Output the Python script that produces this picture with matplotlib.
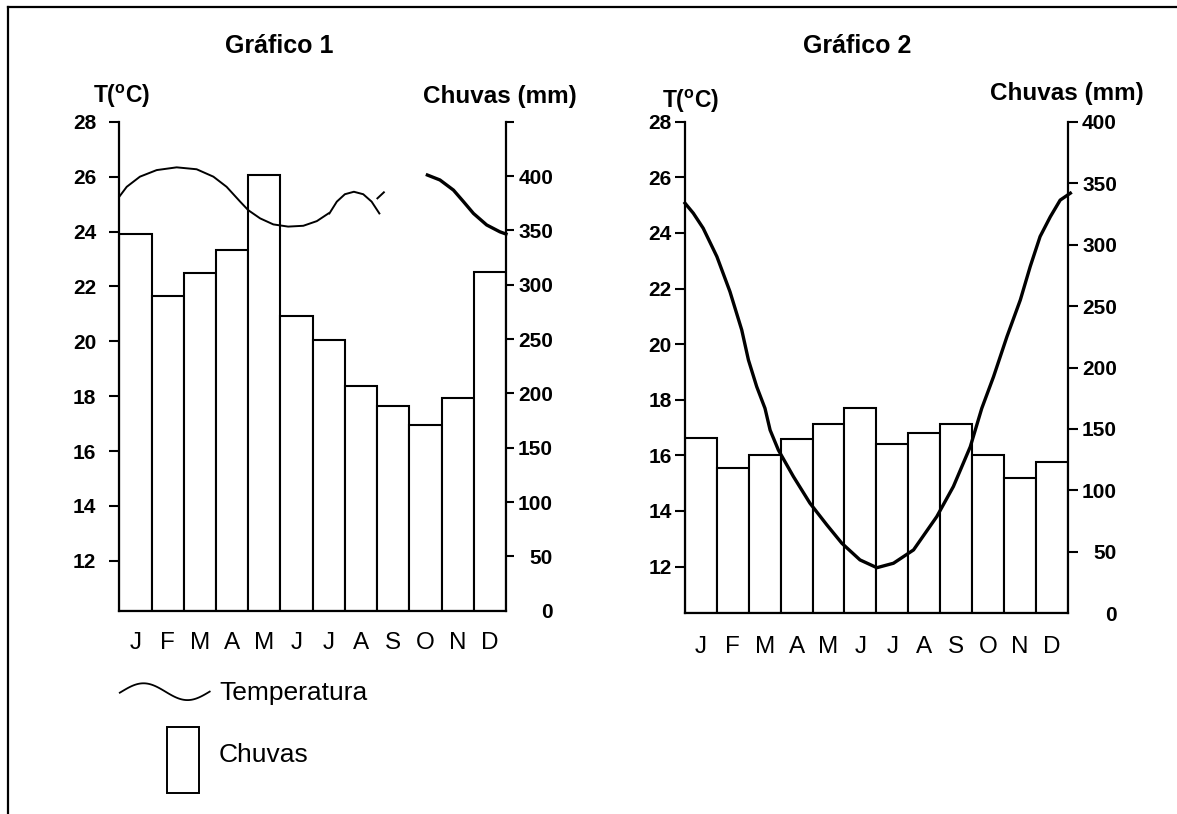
import numpy as np
import matplotlib
matplotlib.use('Agg')
import matplotlib.pyplot as plt
from matplotlib.patches import Rectangle

plt.rcParams['font.family'] = ['Liberation Sans', 'DejaVu Sans']
plt.rcParams['mathtext.fontset'] = 'custom'
plt.rcParams['mathtext.rm'] = 'Liberation Sans:bold'
plt.rcParams['mathtext.bf'] = 'Liberation Sans:bold'

W, H = 1177, 814

months = ['J', 'F', 'M', 'A', 'M', 'J', 'J', 'A', 'S', 'O', 'N', 'D']

# chuvas (mm)
rain1 = [347, 290, 311, 332, 401, 271, 249, 207, 188, 171, 196, 312]
rain2 = [143, 118, 129, 142, 154, 167, 138, 147, 154, 129, 110, 123]

# temperatura, grafico 1 (curve is broken in the original)
t1a_x = [-0.5, -0.27, 0.14, 0.66, 1.28, 1.90, 2.42, 2.83, 3.25, 3.50, 3.87, 4.28, 4.74, 5.21, 5.63, 5.99]
t1a_y = [25.27, 25.63, 26.00, 26.24, 26.34, 26.27, 26.00, 25.63, 25.09, 24.78, 24.48, 24.26, 24.18, 24.21, 24.38, 24.66]
t1b_x = [6.02, 6.25, 6.50, 6.78, 7.07, 7.33, 7.57]
t1b_y = [24.66, 25.09, 25.36, 25.45, 25.36, 25.09, 24.66]
t1c_x = [7.51, 7.71]
t1c_y = [25.21, 25.43]
t1d_x = [9.06, 9.45, 9.87, 10.18, 10.49, 10.90, 11.31, 11.5]
t1d_y = [26.06, 25.88, 25.51, 25.09, 24.66, 24.24, 23.99, 23.91]

# temperatura, grafico 2
t2_x = [-0.5, -0.24, 0.07, 0.50, 0.91, 1.28, 1.49, 1.75, 2.01, 2.17, 2.43, 2.90, 3.42, 3.95,
        4.42, 4.99, 5.52, 6.04, 6.67, 7.40, 7.92, 8.45, 8.81, 9.18, 9.60, 10.02, 10.33, 10.64,
        10.96, 11.27, 11.59]
t2_y = [25.07, 24.71, 24.17, 23.15, 21.89, 20.51, 19.43, 18.47, 17.69, 16.91, 16.19, 15.24, 14.28, 13.50,
        12.84, 12.24, 11.96, 12.12, 12.60, 13.80, 14.88, 16.31, 17.69, 18.83, 20.27, 21.59, 22.79, 23.87,
        24.58, 25.18, 25.43]

t_ticks = [12, 14, 16, 18, 20, 22, 24, 26, 28]


def box(x0, y0, x1, y1):
    return [x0 / W, 1 - y1 / H, (x1 - x0) / W, (y1 - y0) / H]


def make_chart(rect, rain, t_lo, r_ticks, r_labels, r_top, left_pad, r_len, r_pad, x_pad):
    ax_r = fig.add_axes(rect)
    ax_t = ax_r.twinx()
    # temperature axis on the left, rain axis on the right
    ax_t.yaxis.tick_left()
    ax_r.yaxis.tick_right()
    ax_t.set_zorder(ax_r.get_zorder() + 1)
    ax_t.patch.set_visible(False)

    ax_r.bar(range(12), rain, width=1.0, color='white', edgecolor='black', linewidth=1.5)
    ax_r.set_xlim(-0.5, 11.5)
    ax_r.set_ylim(0, r_top)
    ax_t.set_ylim(t_lo, 28)

    for a in (ax_r, ax_t):
        for s in a.spines.values():
            s.set_visible(False)
    ax_t.spines['left'].set_visible(True)
    ax_r.spines['right'].set_visible(True)
    ax_r.spines['bottom'].set_visible(True)
    for s in (ax_t.spines['left'], ax_r.spines['right'], ax_r.spines['bottom']):
        s.set_linewidth(1.6)

    ax_t.set_yticks(t_ticks, [str(v) for v in t_ticks], fontweight='bold')
    ax_t.tick_params(axis='y', direction='out', length=7.2, width=1.5, pad=left_pad, labelsize=15)
    ax_r.set_yticks(r_ticks, r_labels, fontweight='bold', ha='right')
    ax_r.tick_params(axis='y', direction='out', length=r_len, width=1.5, pad=r_pad, labelsize=15)
    ax_r.yaxis.get_major_ticks()[0].tick2line.set_visible(False)

    ax_r.set_xticks(range(12), months, va='baseline')
    ax_r.tick_params(axis='x', length=0, pad=x_pad, labelsize=17.5)
    return ax_t, ax_r


fig = plt.figure(figsize=(W / 100, H / 100), dpi=100)

# grafico 1
ax1, ax1r = make_chart(box(119.3, 121.8, 506, 610.7), rain1, 10.18,
                       [0, 50, 100, 150, 200, 250, 300, 350, 400, 450],
                       ['0', '50', '100', '150', '200', '250', '300', '350', '400', ''],
                       450, 9.4, 5.8, 28.1, 27.6)
ax1.plot(t1a_x, t1a_y, color='black', lw=1.4, clip_on=False)
ax1.plot(t1b_x, t1b_y, color='black', lw=1.4, clip_on=False)
ax1.plot(t1c_x, t1c_y, color='black', lw=1.4, clip_on=False)
ax1.plot(t1d_x, t1d_y, color='black', lw=2.4, clip_on=False)

# grafico 2
ax2, ax2r = make_chart(box(685, 121.7, 1067.5, 613.3), rain2, 10.32,
                       [0, 50, 100, 150, 200, 250, 300, 350, 400],
                       ['0', '50', '100', '150', '200', '250', '300', '350', '400'],
                       400, 2.2, 7.2, 28.4, 28.6)
ax2.plot(t2_x, t2_y, color='black', lw=2.4, clip_on=False)

# overlay in pixel coordinates: frame, titles, legend
ov = fig.add_axes([0, 0, 1, 1], zorder=-1)
ov.set_xlim(0, W)
ov.set_ylim(H, 0)
ov.axis('off')
ov.plot([7.7, W], [7.3, 7.3], color='black', lw=1.6)
ov.plot([7.7, 7.7], [7.3, H], color='black', lw=1.6)

ov.text(279.5, 53.3, 'Gráfico 1', ha='center', va='baseline', fontsize=18, fontweight='bold')
ov.text(857, 53, 'Gráfico 2', ha='center', va='baseline', fontsize=18, fontweight='bold')
ov.text(93, 102.7, r'T($^{\mathrm{o}}$C)', ha='left', va='baseline', fontsize=16.5, fontweight='bold')
ov.text(662, 108, r'T($^{\mathrm{o}}$C)', ha='left', va='baseline', fontsize=16.5, fontweight='bold')
ov.text(577, 102.7, 'Chuvas (mm)', ha='right', va='baseline', fontsize=17.5, fontweight='bold')
ov.text(1144, 100, 'Chuvas (mm)', ha='right', va='baseline', fontsize=17.5, fontweight='bold')

# legend glyphs
wave_x = np.linspace(119.8, 209.7, 60)
ov.plot(wave_x, 691.7 - 8.4 * np.sin(2 * np.pi * (wave_x - 121.5) / 88), color='black', lw=1.3)
ov.text(219, 700, 'Temperatura', ha='left', va='baseline', fontsize=19)
ov.add_patch(Rectangle((166.5, 726.7), 32.5, 66.6, facecolor='white', edgecolor='black', lw=1.4))
ov.text(219, 761.7, 'Chuvas', ha='left', va='baseline', fontsize=19)

fig.savefig('out.png', dpi=100, facecolor='white')
